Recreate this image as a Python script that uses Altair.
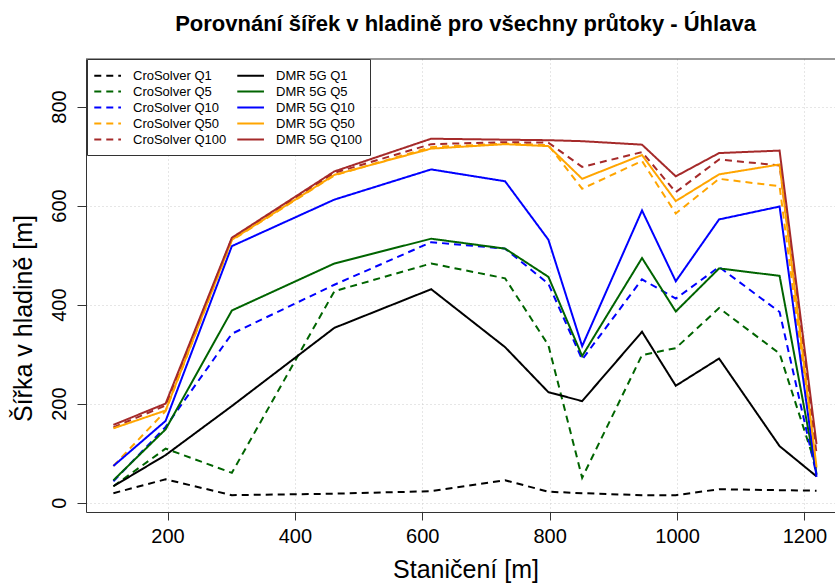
import altair as alt
import pandas as pd

# Station positions [m]
stations = [115, 197, 301, 462, 614, 730, 798, 851, 945, 998, 1066, 1161, 1219]

# Water-surface widths [m]
cro_q1 = [19, 47, 15, 18, 23, 45, 22, 19, 15, 15, 27, 25, 24]
cro_q5 = [33, 109, 60, 427, 483, 453, 318, 50, 298, 312, 393, 301, 70]
cro_q10 = [43, 153, 341, 440, 526, 513, 442, 289, 451, 412, 476, 385, 56]
cro_q50 = [74, 185, 530, 661, 718, 725, 722, 634, 690, 584, 654, 639, 66]
cro_q100 = [152, 196, 533, 666, 724, 728, 727, 678, 708, 627, 693, 681, 99]

dmr_q1 = [33, 96, 195, 353, 431, 314, 223, 205, 345, 236, 291, 114, 53]
dmr_q5 = [45, 148, 388, 483, 533, 513, 456, 296, 494, 386, 473, 458, 58]
dmr_q10 = [74, 165, 518, 612, 673, 649, 531, 316, 590, 447, 572, 598, 52]
dmr_q50 = [150, 186, 531, 662, 715, 724, 720, 654, 702, 609, 663, 683, 72]
dmr_q100 = [157, 200, 535, 669, 735, 733, 732, 730, 723, 659, 706, 711, 118]

series = [
    ("CroSolver Q1", cro_q1), ("CroSolver Q5", cro_q5), ("CroSolver Q10", cro_q10),
    ("CroSolver Q50", cro_q50), ("CroSolver Q100", cro_q100),
    ("DMR 5G Q1", dmr_q1), ("DMR 5G Q5", dmr_q5), ("DMR 5G Q10", dmr_q10),
    ("DMR 5G Q50", dmr_q50), ("DMR 5G Q100", dmr_q100),
]

rows = []
for name, vals in series:
    for s, v in zip(stations, vals):
        rows.append({"serie": name, "stanice": s, "sirka": v})
df = pd.DataFrame(rows)

legend_order = [name for name, _ in series]
color_map = {"Q1": "#000000", "Q5": "#006400", "Q10": "#0000FF",
             "Q50": "#FFA500", "Q100": "#A52A2A"}
colors = [color_map[n.split()[-1]] for n in legend_order]
dashes = [[7, 5] if n.startswith("CroSolver") else [1, 0] for n in legend_order]

FONT = "Liberation Sans"

legend = alt.Legend(
    orient="none", legendX=1, legendY=0, columns=2, title=None,
    symbolType="M-1.23,0H2.33", symbolSize=225, symbolStrokeWidth=2,
    labelFont=FONT, labelFontSize=13, labelColor="black",
    labelOffset=21, columnPadding=6, rowPadding=-1,
    strokeColor="#333333", padding=8, fillColor="white", cornerRadius=0,
    direction="vertical",
)

lines = alt.Chart(df).mark_line(strokeWidth=2, clip=True).encode(
    x=alt.X("stanice:Q",
            scale=alt.Scale(domain=[72, 1248], nice=False, zero=False),
            axis=alt.Axis(values=[200, 400, 600, 800, 1000, 1200], format="d",
                          title="Staničení [m]", tickSize=8, labelPadding=6,
                          labelFlush=False, titleX=379.5, titleY=65,
                          titleBaseline="alphabetic", titleAnchor="start",
                          titleAlign="center")),
    y=alt.Y("sirka:Q",
            scale=alt.Scale(domain=[-19, 896], nice=False, zero=False),
            axis=alt.Axis(values=[0, 200, 400, 600, 800], format="d",
                          title="Šířka v hladině [m]", tickSize=9,
                          labelAngle=270, labelAlign="center",
                          labelBaseline="alphabetic", labelPadding=12,
                          titleX=-63, titleY=259, titleAngle=270,
                          titleAlign="center", titleBaseline="middle",
                          titleAnchor="start")),
    color=alt.Color("serie:N", scale=alt.Scale(domain=legend_order, range=colors),
                    legend=legend),
    strokeDash=alt.StrokeDash("serie:N", scale=alt.Scale(domain=legend_order, range=dashes),
                              legend=legend),
)

top_line = alt.Chart(pd.DataFrame({"a": [0]})).mark_rule(
    color="#333333", strokeWidth=1
).encode(x=alt.value(0), x2=alt.value(749), y=alt.value(0))

chart = alt.layer(lines, top_line).properties(
    width=749, height=453,
    background="white",
    autosize=alt.AutoSizeParams(type="none"),
    padding={"left": 86, "top": 59, "right": 0, "bottom": 71},
    title=alt.TitleParams(
        "Porovnání šířek v hladině pro všechny průtoky - Úhlava",
        font=FONT, fontSize=22, fontWeight="bold", color="black",
        anchor="middle", dx=5, offset=6, baseline="alphabetic", frame="group",
    ),
).configure_view(stroke=None).configure_axis(
    grid=True, gridColor="#CCCCCC", gridDash=[1, 3], gridWidth=1,
    domainColor="#333333", domainWidth=1, tickColor="#333333", tickWidth=1,
    labelFont=FONT, labelFontSize=20, labelColor="black",
    titleFont=FONT, titleFontSize=25, titleFontWeight="normal", titleColor="black",
)

chart.save("out.html", embed_options={"renderer": "svg", "actions": False})
